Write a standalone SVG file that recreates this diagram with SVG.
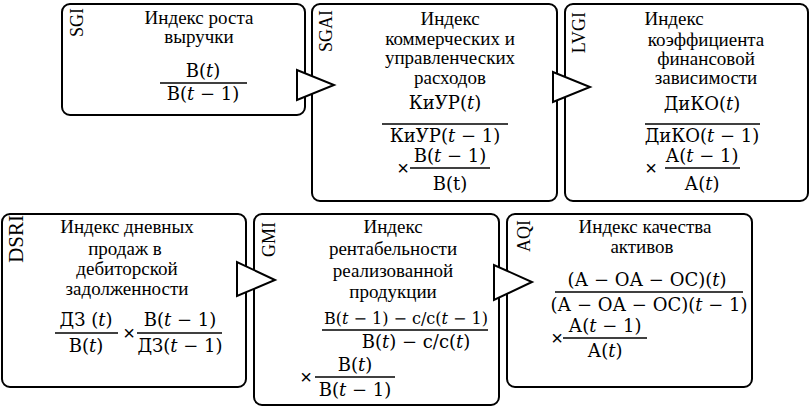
<svg xmlns="http://www.w3.org/2000/svg" width="810" height="410" viewBox="0 0 810 410">
<style>
.box{fill:#fff;stroke:#000;stroke-width:2}
.arr{fill:#fff;stroke:#000;stroke-width:2;stroke-linejoin:miter}
.lbl{font-family:"Liberation Serif",serif;font-size:18px;fill:#000;text-anchor:end}
.t{font-family:"Liberation Serif",serif;font-size:19px;fill:#000;text-anchor:middle}
.f{font-family:"DejaVu Serif","Liberation Serif",serif;font-size:18px;fill:#000;text-anchor:middle}
.x{font-family:"Liberation Sans",sans-serif;font-size:20px;fill:#000;text-anchor:middle}
.fl{stroke:#000;stroke-width:1.5}
.i{font-style:italic}
</style>
<rect width="810" height="410" fill="#fff"/>
<g id="node-sgi">
<rect class="box" x="62" y="4" width="243" height="111" rx="8"/>
<text class="lbl" transform="translate(83,8) rotate(-90)">SGI</text>
<text class="t" x="199" y="24">Индекс роста</text>
<text class="t" x="199" y="43">выручки</text>
<text class="f" x="203" y="77">В(<tspan class="i">t</tspan>)</text>
<line class="fl" x1="160" y1="83" x2="247" y2="83"/>
<text class="f" x="203" y="100">В(<tspan class="i">t</tspan> − 1)</text>
</g>
<g id="node-sgai">
<rect class="box" x="312" y="4" width="245" height="197" rx="8"/>
<text class="lbl" transform="translate(332,10) rotate(-90)">SGAI</text>
<text class="t" x="450" y="25">Индекс</text>
<text class="t" x="450" y="45">коммерческих и</text>
<text class="t" x="450" y="64">управленческих</text>
<text class="t" x="450" y="84">расходов</text>
<text class="f" x="445" y="109">КиУР(<tspan class="i">t</tspan>)</text>
<line class="fl" x1="382" y1="124" x2="508" y2="124"/>
<text class="f" x="445" y="142">КиУР(<tspan class="i">t</tspan> − 1)</text>
<text class="x" x="403" y="175">×</text>
<text class="f" x="450" y="162">В(<tspan class="i">t</tspan> − 1)</text>
<line class="fl" x1="410" y1="168" x2="490" y2="168"/>
<text class="f" x="450" y="190">В(t)</text>
</g>
<g id="node-lvgi">
<rect class="box" x="565" y="4" width="243" height="197" rx="8"/>
<text class="lbl" transform="translate(585,12) rotate(-90)">LVGI</text>
<text class="t" x="674" y="25">Индекс</text>
<text class="t" x="706" y="46">коэффициента</text>
<text class="t" x="706" y="65">финансовой</text>
<text class="t" x="706" y="84">зависимости</text>
<text class="f" x="702" y="110">ДиКО(<tspan class="i">t</tspan>)</text>
<line class="fl" x1="645" y1="124" x2="760" y2="124"/>
<text class="f" x="702" y="142">ДиКО(<tspan class="i">t</tspan> − 1)</text>
<text class="x" x="651" y="175">×</text>
<text class="f" x="702" y="162">А(<tspan class="i">t</tspan> − 1)</text>
<line class="fl" x1="665" y1="168" x2="740" y2="168"/>
<text class="f" x="702" y="190">А(<tspan class="i">t</tspan>)</text>
</g>
<g id="node-dsri">
<rect class="box" x="2" y="214" width="244" height="173" rx="8"/>
<text class="lbl" style="font-size:21px" transform="translate(23,215) rotate(-90)">DSRI</text>
<text class="t" x="127" y="233">Индекс дневных</text>
<text class="t" x="125" y="255">продаж в</text>
<text class="t" x="127" y="275">дебиторской</text>
<text class="t" x="127" y="295">задолженности</text>
<text class="f" x="86" y="326">ДЗ (<tspan class="i">t</tspan>)</text>
<line class="fl" x1="55" y1="333" x2="118" y2="333"/>
<text class="f" x="86" y="352">В(<tspan class="i">t</tspan>)</text>
<text class="x" x="129" y="340">×</text>
<text class="f" x="180" y="326">В(<tspan class="i">t</tspan> − 1)</text>
<line class="fl" x1="137" y1="333" x2="222" y2="333"/>
<text class="f" x="180" y="352">ДЗ(<tspan class="i">t</tspan> − 1)</text>
</g>
<g id="node-gmi">
<rect class="box" x="254" y="214" width="245" height="191" rx="8"/>
<text class="lbl" transform="translate(275,222) rotate(-90)">GMI</text>
<text class="t" x="393" y="233">Индекс</text>
<text class="t" x="393" y="255">рентабельности</text>
<text class="t" x="393" y="277">реализованной</text>
<text class="t" x="393" y="298">продукции</text>
<text class="f" x="406" y="324" style="font-size:16px">В(<tspan class="i">t</tspan> − 1) − с/с(<tspan class="i">t</tspan> − 1)</text>
<line class="fl" x1="322" y1="330" x2="488" y2="330"/>
<text class="f" x="416" y="348">В(<tspan class="i">t</tspan>) − с/с(<tspan class="i">t</tspan>)</text>
<text class="x" x="306" y="384">×</text>
<text class="f" x="355" y="371">В(<tspan class="i">t</tspan>)</text>
<line class="fl" x1="315" y1="377" x2="395" y2="377"/>
<text class="f" x="355" y="396">В(<tspan class="i">t</tspan> − 1)</text>
</g>
<g id="node-aqi">
<rect class="box" x="507" y="214" width="245" height="173" rx="8"/>
<text class="lbl" transform="translate(530,220) rotate(-90)">AQI</text>
<text class="t" x="645" y="233">Индекс качества</text>
<text class="t" x="642" y="253">активов</text>
<text class="f" x="647" y="286">(А − ОА − ОС)(<tspan class="i">t</tspan>)</text>
<line class="fl" x1="555" y1="292" x2="743" y2="292"/>
<text class="f" x="649" y="311">(А − ОА − ОС)(<tspan class="i">t</tspan> − 1)</text>
<text class="x" x="557" y="345">×</text>
<text class="f" x="605" y="332">А(<tspan class="i">t</tspan> − 1)</text>
<line class="fl" x1="563" y1="338" x2="647" y2="338"/>
<text class="f" x="605" y="357">А(<tspan class="i">t</tspan>)</text>
</g>
<g id="connectors">
<polygon class="arr" points="297,70 297,100 334,85"/>
<polygon class="arr" points="553,72 553,102 590,87"/>
<polygon class="arr" points="237,262 237,296 275,280"/>
<polygon class="arr" points="494,265 494,300 532,282"/>
</g>
</svg>
